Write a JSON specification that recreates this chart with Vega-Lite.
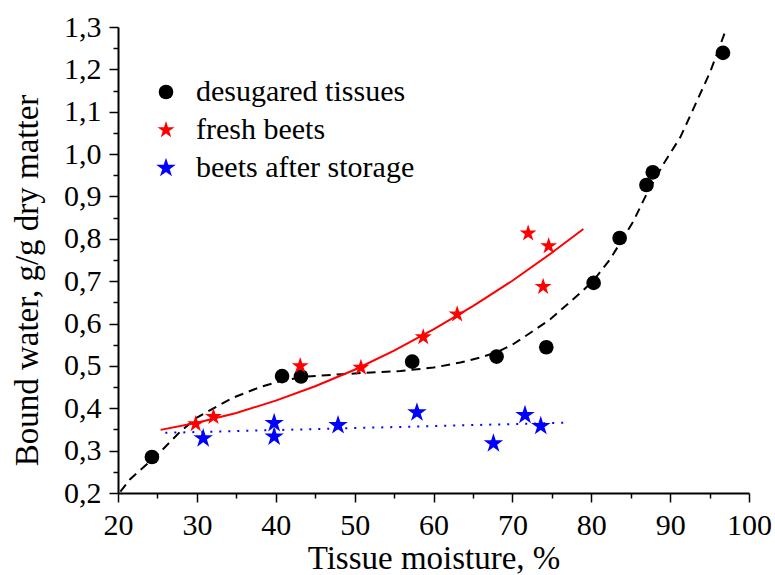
{
  "$schema": "https://vega.github.io/schema/vega-lite/v6.json",
  "width": 631,
  "height": 466,
  "autosize": {"type": "none"},
  "padding": {"left": 118, "top": 27, "right": 26, "bottom": 82},
  "background": "white",
  "config": {
    "view": {"stroke": null},
    "font": "Liberation Serif",
    "axis": {
      "domainColor": "black",
      "domainWidth": 2,
      "tickColor": "black",
      "tickWidth": 1.5,
      "labelColor": "black",
      "titleColor": "black",
      "labelFont": "Liberation Serif",
      "titleFont": "Liberation Serif",
      "labelFontSize": 30,
      "titleFontSize": 33,
      "titleFontWeight": "normal",
      "grid": false
    },
    "legend": {
      "labelFont": "Liberation Serif",
      "labelFontSize": 30,
      "labelColor": "black",
      "labelLimit": 0
    }
  },
  "resolve": {"axis": {"x": "independent", "y": "independent"}},
  "datasets": {
    "points": [
      {"series": "desugared tissues", "x": 24.3, "y": 0.285},
      {"series": "desugared tissues", "x": 40.8, "y": 0.476},
      {"series": "desugared tissues", "x": 43.2, "y": 0.475},
      {"series": "desugared tissues", "x": 57.3, "y": 0.510},
      {"series": "desugared tissues", "x": 68.0, "y": 0.522},
      {"series": "desugared tissues", "x": 74.3, "y": 0.544},
      {"series": "desugared tissues", "x": 80.3, "y": 0.696},
      {"series": "desugared tissues", "x": 83.6, "y": 0.802},
      {"series": "desugared tissues", "x": 87.0, "y": 0.927},
      {"series": "desugared tissues", "x": 87.8, "y": 0.957},
      {"series": "desugared tissues", "x": 96.7, "y": 1.239},
      {"series": "fresh beets", "x": 29.85, "y": 0.363},
      {"series": "fresh beets", "x": 32.1, "y": 0.380},
      {"series": "fresh beets", "x": 43.1, "y": 0.500},
      {"series": "fresh beets", "x": 50.8, "y": 0.496},
      {"series": "fresh beets", "x": 58.7, "y": 0.568},
      {"series": "fresh beets", "x": 63.0, "y": 0.622},
      {"series": "fresh beets", "x": 72.0, "y": 0.813},
      {"series": "fresh beets", "x": 74.6, "y": 0.783},
      {"series": "fresh beets", "x": 73.9, "y": 0.687},
      {"series": "beets after storage", "x": 30.8, "y": 0.329},
      {"series": "beets after storage", "x": 39.8, "y": 0.365},
      {"series": "beets after storage", "x": 39.8, "y": 0.333},
      {"series": "beets after storage", "x": 47.9, "y": 0.360},
      {"series": "beets after storage", "x": 57.9, "y": 0.390},
      {"series": "beets after storage", "x": 67.6, "y": 0.317},
      {"series": "beets after storage", "x": 71.6, "y": 0.384},
      {"series": "beets after storage", "x": 73.6, "y": 0.358}
    ],
    "curves": [
      {"curve": "desugared", "x": 20.3, "y": 0.203},
      {"curve": "desugared", "x": 21.5, "y": 0.232},
      {"curve": "desugared", "x": 25.0, "y": 0.290},
      {"curve": "desugared", "x": 27.9, "y": 0.345},
      {"curve": "desugared", "x": 30.0, "y": 0.378},
      {"curve": "desugared", "x": 32.1, "y": 0.400},
      {"curve": "desugared", "x": 34.6, "y": 0.425},
      {"curve": "desugared", "x": 38.0, "y": 0.450},
      {"curve": "desugared", "x": 41.0, "y": 0.466},
      {"curve": "desugared", "x": 44.0, "y": 0.475},
      {"curve": "desugared", "x": 47.3, "y": 0.479},
      {"curve": "desugared", "x": 51.5, "y": 0.484},
      {"curve": "desugared", "x": 55.8, "y": 0.488},
      {"curve": "desugared", "x": 60.0, "y": 0.496},
      {"curve": "desugared", "x": 63.4, "y": 0.508},
      {"curve": "desugared", "x": 66.0, "y": 0.520},
      {"curve": "desugared", "x": 68.0, "y": 0.532},
      {"curve": "desugared", "x": 70.0, "y": 0.550},
      {"curve": "desugared", "x": 72.2, "y": 0.577},
      {"curve": "desugared", "x": 74.8, "y": 0.610},
      {"curve": "desugared", "x": 78.6, "y": 0.672},
      {"curve": "desugared", "x": 80.3, "y": 0.702},
      {"curve": "desugared", "x": 82.4, "y": 0.752},
      {"curve": "desugared", "x": 85.3, "y": 0.840},
      {"curve": "desugared", "x": 87.0, "y": 0.905},
      {"curve": "desugared", "x": 89.1, "y": 0.975},
      {"curve": "desugared", "x": 91.3, "y": 1.040},
      {"curve": "desugared", "x": 92.9, "y": 1.105},
      {"curve": "desugared", "x": 94.2, "y": 1.158},
      {"curve": "desugared", "x": 95.1, "y": 1.195},
      {"curve": "desugared", "x": 96.2, "y": 1.250},
      {"curve": "desugared", "x": 97.1, "y": 1.295},
      {"curve": "fresh", "x": 25.4, "y": 0.349},
      {"curve": "fresh", "x": 30.0, "y": 0.366},
      {"curve": "fresh", "x": 35.0, "y": 0.389},
      {"curve": "fresh", "x": 40.0, "y": 0.418},
      {"curve": "fresh", "x": 45.0, "y": 0.452},
      {"curve": "fresh", "x": 50.0, "y": 0.491},
      {"curve": "fresh", "x": 55.0, "y": 0.536},
      {"curve": "fresh", "x": 60.0, "y": 0.586},
      {"curve": "fresh", "x": 65.0, "y": 0.641},
      {"curve": "fresh", "x": 70.0, "y": 0.701},
      {"curve": "fresh", "x": 75.0, "y": 0.767},
      {"curve": "fresh", "x": 79.0, "y": 0.823},
      {"curve": "storage", "x": 26.0, "y": 0.342},
      {"curve": "storage", "x": 77.0, "y": 0.366}
    ]
  },
  "layer": [
    {
      "data": {"name": "curves"},
      "transform": [{"filter": "datum.curve === 'desugared'"}],
      "mark": {"type": "line", "color": "black", "strokeWidth": 2, "strokeDash": [9, 6]},
      "encoding": {
        "x": {"field": "x", "type": "quantitative", "axis": {
          "orient": "bottom",
          "values": [25, 35, 45, 55, 65, 75, 85, 95],
          "labels": false, "domain": false, "tickSize": 5, "title": null
        }},
        "y": {"field": "y", "type": "quantitative", "axis": {
          "orient": "left",
          "values": [0.25, 0.35, 0.45, 0.55, 0.65, 0.75, 0.85, 0.95, 1.05, 1.15, 1.25],
          "labels": false, "domain": false, "tickSize": 5, "title": null
        }}
      }
    },
    {
      "data": {"name": "curves"},
      "transform": [{"filter": "datum.curve === 'fresh'"}],
      "mark": {"type": "line", "color": "#ff0000", "strokeWidth": 2},
      "encoding": {
        "x": {"field": "x", "type": "quantitative", "axis": null},
        "y": {"field": "y", "type": "quantitative", "axis": null}
      }
    },
    {
      "data": {"name": "curves"},
      "transform": [{"filter": "datum.curve === 'storage'"}],
      "mark": {"type": "line", "color": "#0000ff", "strokeWidth": 2, "strokeDash": [2, 7]},
      "encoding": {
        "x": {"field": "x", "type": "quantitative", "axis": null},
        "y": {"field": "y", "type": "quantitative", "axis": null}
      }
    },
    {
      "data": {"name": "points"},
      "mark": {"type": "point", "filled": true, "opacity": 1, "strokeWidth": 0},
      "encoding": {
        "x": {
          "field": "x",
          "type": "quantitative",
          "scale": {"domain": [20, 100], "nice": false, "zero": false},
          "axis": {
            "orient": "bottom",
            "title": "Tissue moisture, %",
            "values": [20, 30, 40, 50, 60, 70, 80, 90, 100],
            "tickSize": 9,
            "labelPadding": 8,
            "labelFlush": false,
            "labelOverlap": false,
            "titleBaseline": "alphabetic",
            "titleY": 75
          }
        },
        "y": {
          "field": "y",
          "type": "quantitative",
          "scale": {"domain": [0.2, 1.3], "nice": false, "zero": false},
          "axis": {
            "orient": "left",
            "title": "Bound water, g/g dry matter",
            "values": [0.2, 0.3, 0.4, 0.5, 0.6, 0.7, 0.8, 0.9, 1.0, 1.1, 1.2, 1.3],
            "labelExpr": "replace(format(datum.value, '.1f'), '.', ',')",
            "tickSize": 9,
            "labelPadding": 8,
            "labelFlush": false,
            "labelOverlap": false,
            "labelBaseline": "middle",
            "titleBaseline": "alphabetic",
            "titleX": -81,
            "titleY": 253
          }
        },
        "size": {
          "field": "series",
          "type": "nominal",
          "scale": {"domain": ["desugared tissues", "fresh beets", "beets after storage"], "range": [215, 420, 420]},
          "legend": null
        },
        "color": {
          "field": "series",
          "type": "nominal",
          "scale": {"domain": ["desugared tissues", "fresh beets", "beets after storage"], "range": ["black", "#ff0000", "#0000ff"]},
          "legend": {
            "title": null,
            "orient": "none",
            "legendX": 33,
            "legendY": 50,
            "padding": 0,
            "symbolSize": 130,
            "rowPadding": 8,
            "labelOffset": 15,
            "labelLimit": 0,
            "symbolStrokeWidth": 0
          }
        },
        "shape": {
          "field": "series",
          "type": "nominal",
          "scale": {"domain": ["desugared tissues", "fresh beets", "beets after storage"], "range": ["circle", "M0,-1L0.2245,-0.309L0.951,-0.309L0.363,0.118L0.588,0.809L0,0.382L-0.588,0.809L-0.363,0.118L-0.951,-0.309L-0.2245,-0.309Z", "M0,-1L0.2245,-0.309L0.951,-0.309L0.363,0.118L0.588,0.809L0,0.382L-0.588,0.809L-0.363,0.118L-0.951,-0.309L-0.2245,-0.309Z"]},
          "legend": {
            "title": null,
            "orient": "none",
            "legendX": 33,
            "legendY": 50,
            "padding": 0,
            "symbolSize": 130,
            "rowPadding": 8,
            "labelOffset": 15,
            "labelLimit": 0,
            "symbolStrokeWidth": 0
          }
        }
      }
    }
  ]
}
